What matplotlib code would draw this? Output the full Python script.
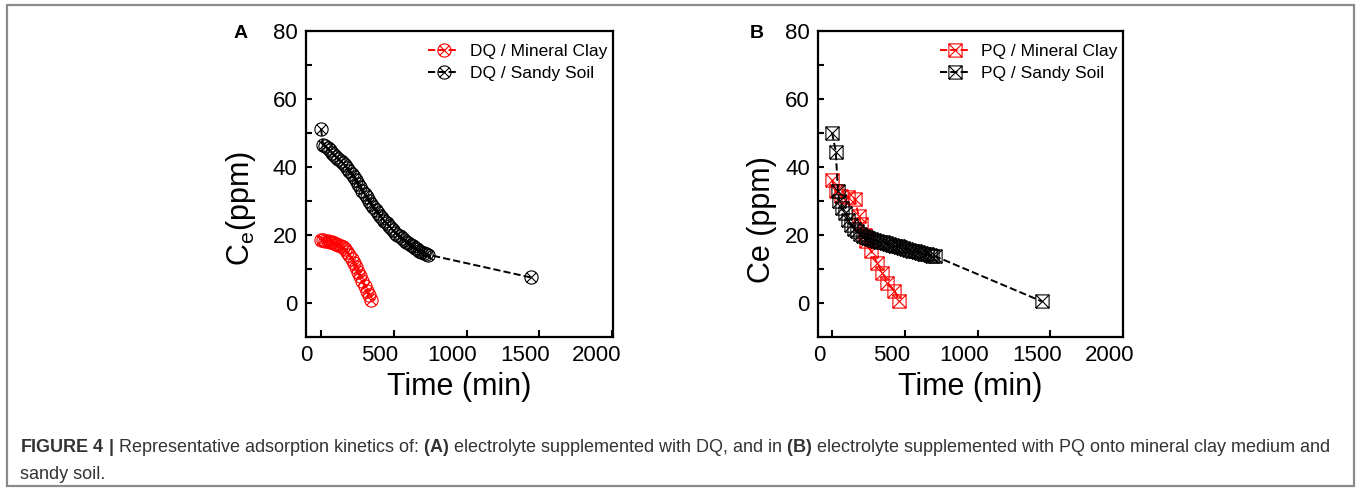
import numpy as np, matplotlib
matplotlib.use("Agg"); import matplotlib.pyplot as plt
from matplotlib.path import Path
from matplotlib.patches import Rectangle
plt.rcParams.update({"font.family":"Liberation Sans","mathtext.fontset":"custom",
                     "mathtext.rm":"Liberation Sans","mathtext.bf":"Liberation Sans:bold",
                     "mathtext.it":"Liberation Sans:italic"})

# ---- data (minutes, ppm) ----
dq_sandy_t=[0,15,30,45,60,75,90,105,120,135,150,165,180,195,210,225,240,255,270,285,300,315,330,345,360,375,390,405,
            420,435,450,465,480,495,510,525,540,555,570,585,600,615,630,645,660,675,690,705,720,735,1440]
dq_sandy_c=[51.2,46.5,46.0,45.4,44.8,44.2,43.6,43.0,42.4,41.8,41.1,40.4,39.6,38.8,38.0,37.0,36.0,35.0,34.0,33.0,32.0,31.0,
            30.0,29.0,28.2,27.4,26.5,25.7,25.0,24.2,23.4,22.7,22.0,21.3,20.7,20.1,19.6,19.0,18.5,18.0,17.5,17.0,16.6,16.2,
            15.8,15.4,15.1,14.8,14.5,14.2,7.5]
dq_clay_t=[0,15,30,45,60,75,90,105,120,135,150,165,180,195,210,225,240,255,270,285,300,315,330,345]
dq_clay_c=[18.5,18.4,18.3,18.1,18.0,17.8,17.6,17.4,17.1,16.8,16.4,15.8,15.0,14.0,13.0,11.8,10.5,9.2,7.8,6.4,5.0,3.6,2.2,0.8]
pq_sandy_t=[0,25,40,50,70,90,110,130,150,170,190,210,230,250,270,290,310,330,350,370,390,410,430,450,470,490,510,530,
            550,570,590,610,630,650,670,690,710,1440]
pq_sandy_c=[50.0,44.5,33.0,30.0,28.0,26.5,24.5,23.0,21.8,21.0,20.3,19.8,19.4,19.1,18.8,18.5,18.2,18.0,17.8,17.5,17.3,17.0,
            16.8,16.6,16.3,16.1,15.9,15.6,15.4,15.2,15.0,14.8,14.5,14.3,14.1,13.9,13.7,0.5]
pq_clay_t=[0,25,64,107,155,183,200,223,234,268,311,346,380,428,462]
pq_clay_c=[36.0,33.0,31.4,31.2,30.6,25.6,23.3,20.0,18.3,15.3,11.6,8.9,6.0,3.6,0.5]

xtick_labels=["0","500","1000","1500","2000"]
caption=(r"$\mathbf{FIGURE\ 4\ |}$ Representative adsorption kinetics of: $\mathbf{(A)}$ electrolyte supplemented with DQ, "
         r"and in $\mathbf{(B)}$ electrolyte supplemented with PQ onto mineral clay medium and")
caption2="sandy soil."

# markers: circle with X, square with X
M,L=Path.MOVETO,Path.LINETO
d=0.707
cross=Path([(-d,-d),(d,d),(-d,d),(d,-d)],[M,L,M,L])
circ_x=Path.make_compound_path(Path.unit_circle(),cross)
sq=Path([(-1,-1),(1,-1),(1,1),(-1,1),(-1,-1)],[M,L,L,L,L])
sq_x=Path.make_compound_path(sq,Path([(-1,-1),(1,1),(-1,1),(1,-1)],[M,L,M,L]))

fig=plt.figure(figsize=(13.58,4.90),dpi=100)
fig.patches.append(Rectangle((7/1358,4/490),1347/1358,481/490,transform=fig.transFigure,
                             fill=False,edgecolor="#8a8a8a",lw=1.6))

def panel(rect,xl,series,ylab,labx,laby,letter,lx):
    ax=fig.add_axes(rect)
    for t,c,col,mk,ms,lab in series:
        ax.plot(t,c,ls="--",color=col,marker=mk,ms=ms,mfc="none",mec=col,mew=0.8,lw=1.4,label=lab)
    ax.set_xlim(*xl); ax.set_ylim(-10,80)
    ax.set_xticks([0,500,1000,1500,2000],[""]*5)
    # tick labels are offset from the tick marks in the original figure
    ax.set_xticks([xl[0]+5,xl[0]+505,xl[0]+1005,xl[0]+1505,xl[0]+2000],xtick_labels,minor=True)
    ax.tick_params(axis="x",which="minor",length=0,pad=6,labelsize=16)
    ax.tick_params(axis="x",which="major",direction="in",length=5,width=1.5)
    ax.set_yticks(np.arange(0,81,20)); ax.set_yticks(np.arange(-10,80,10),minor=True)
    ax.tick_params(axis="y",which="both",direction="in",length=4.5,width=1.5,labelsize=16,pad=6)
    for s in ax.spines.values(): s.set_linewidth(1.6)
    ax.set_xlabel("Time (min)",fontsize=22,labelpad=4)
    ax.set_ylabel(ylab,fontsize=22); ax.yaxis.set_label_coords(labx,laby)
    ax.legend(loc="upper left",bbox_to_anchor=(0.37,0.985),frameon=False,fontsize=12.5,
              handlelength=1.8,handletextpad=0.6,labelspacing=0.4,borderpad=0)
    fig.text(lx/1358,1-33/490,letter,fontsize=14,fontweight="bold",ha="center",va="center")
    return ax

panel([305.7/1358,153/490,307/1358,306.3/490],(-105,2003),
      [(dq_clay_t,dq_clay_c,"#ff0000",circ_x,9.5,"DQ / Mineral Clay"),
       (dq_sandy_t,dq_sandy_c,"#000000",circ_x,9.5,"DQ / Sandy Soil")],
      r"C$_\mathregular{e}$(ppm)",-0.155,0.42,"A",241)
panel([818.3/1358,153/490,304.7/1358,306.3/490],(-95,1984),
      [(pq_clay_t,pq_clay_c,"#ff0000",sq_x,9.5,"PQ / Mineral Clay"),
       (pq_sandy_t,pq_sandy_c,"#000000",sq_x,9.5,"PQ / Sandy Soil")],
      "Ce (ppm)",-0.135,0.385,"B",757)

fig.text(20/1358,1-447/490,caption,fontsize=13,color="#333333",va="center",ha="left")
fig.text(20/1358,1-474/490,caption2,fontsize=13,color="#333333",va="center",ha="left")
fig.savefig("out.png",dpi=100)
